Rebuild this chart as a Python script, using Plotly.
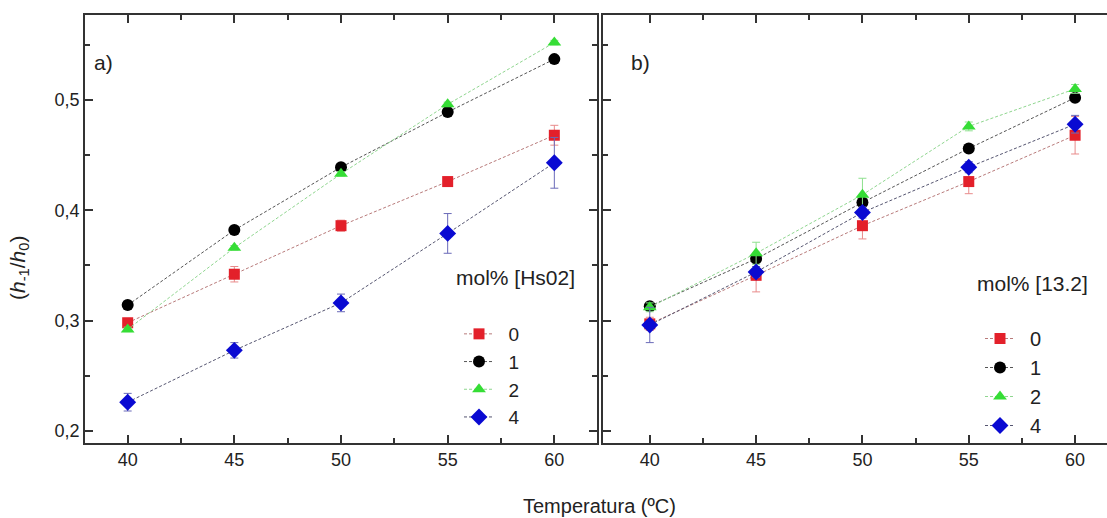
import plotly.graph_objects as go

# ---------------- data ----------------
temps = [40, 45, 50, 55, 60]
series_names = ["0", "1", "2", "4"]

# panel a) mol% [Hs02]
a_0 = [0.298, 0.342, 0.386, 0.426, 0.468]
a_0_err = [0.004, 0.007, 0.005, 0.004, 0.009]
a_1 = [0.314, 0.382, 0.439, 0.489, 0.537]
a_1_err = [0.002, 0.002, 0.002, 0.002, 0.002]
a_2 = [0.292, 0.366, 0.433, 0.496, 0.552]
a_2_err = [0.002, 0.002, 0.002, 0.002, 0.002]
a_4 = [0.226, 0.273, 0.316, 0.379, 0.443]
a_4_err = [0.008, 0.007, 0.008, 0.018, 0.023]

# panel b) mol% [13.2]
b_0 = [0.297, 0.341, 0.386, 0.426, 0.468]
b_0_err = [0.006, 0.015, 0.012, 0.011, 0.017]
b_1 = [0.313, 0.356, 0.407, 0.456, 0.502]
b_1_err = [0.003, 0.003, 0.003, 0.003, 0.003]
b_2 = [0.312, 0.361, 0.414, 0.476, 0.510]
b_2_err = [0.004, 0.010, 0.015, 0.004, 0.004]
b_4 = [0.296, 0.344, 0.398, 0.439, 0.478]
b_4_err = [0.016, 0.005, 0.005, 0.005, 0.008]

y_tick_vals = [0.2, 0.3, 0.4, 0.5]
y_tick_text = ["0,2", "0,3", "0,4", "0,5"]
x_tick_vals = [40, 45, 50, 55, 60]

# ---------------- styles ----------------
marker_colors = ["#e3202a", "#000000", "#35dd35", "#0a0ad2"]
line_colors = ["#b87a7a", "#555555", "#8fd68f", "#555570"]
err_colors = ["#e88a8a", "#888888", "#8ee08e", "#6a6ab8"]
symbols = ["square", "circle", "triangle-up", "diamond"]
sizes = [11, 12, 12, 13]

W, H = 1107, 518
FONT = "Liberation Sans, Arial, sans-serif"
AX = "#333333"
TXT = "#222222"
PAD = "\u2002"

def px_x(p):
    return p / W

def px_y(p):
    return 1 - p / H

fig = go.Figure()

panel_a = [a_0, a_1, a_2, a_4]
panel_a_err = [a_0_err, a_1_err, a_2_err, a_4_err]
panel_b = [b_0, b_1, b_2, b_4]
panel_b_err = [b_0_err, b_1_err, b_2_err, b_4_err]

for i, name in enumerate(series_names):
    fig.add_trace(go.Scatter(
        x=temps, y=panel_a[i], name=PAD + name, mode="lines+markers",
        xaxis="x", yaxis="y", legend="legend",
        line=dict(color=line_colors[i], width=1, dash="3px,2px"),
        marker=dict(symbol=symbols[i], size=sizes[i], color=marker_colors[i],
                    line=dict(width=0)),
        error_y=dict(type="data", array=panel_a_err[i], visible=True,
                     color=err_colors[i], thickness=1, width=4),
    ))

for i, name in enumerate(series_names):
    fig.add_trace(go.Scatter(
        x=temps, y=panel_b[i], name=PAD + name, mode="lines+markers",
        xaxis="x2", yaxis="y2", legend="legend2",
        line=dict(color=line_colors[i], width=1, dash="3px,2px"),
        marker=dict(symbol=symbols[i], size=sizes[i], color=marker_colors[i],
                    line=dict(width=0)),
        error_y=dict(type="data", array=panel_b_err[i], visible=True,
                     color=err_colors[i], thickness=1, width=4),
    ))

tickfont = dict(family=FONT, size=18, color=TXT)

common_x = dict(
    tickmode="array", tickvals=x_tick_vals, ticks="inside", ticklen=8,
    tickwidth=1.5, tickcolor=AX, showline=True, linewidth=1.5, linecolor=AX,
    mirror="allticks", showgrid=False, zeroline=False, tickfont=tickfont,
    minor=dict(dtick=2.5, tick0=40, ticks="inside", ticklen=5, tickwidth=1.5,
               tickcolor=AX, showgrid=False),
)
common_y = dict(
    tickmode="array", tickvals=y_tick_vals, ticktext=y_tick_text,
    ticks="inside", ticklen=8, tickwidth=1.5, tickcolor=AX, showline=True,
    linewidth=1.5, linecolor=AX, showgrid=False, zeroline=False,
    tickfont=tickfont, range=[0.189, 0.577],
    minor=dict(dtick=0.05, tick0=0.2, ticks="inside", ticklen=5, tickwidth=1.5,
               tickcolor=AX, showgrid=False),
)

top = px_y(15)
bottom = px_y(443)

fig.update_layout(
    width=W, height=H,
    margin=dict(l=0, r=0, t=0, b=0),
    paper_bgcolor="white", plot_bgcolor="white",
    separators=", ",
    font=dict(family=FONT, color=TXT),
    xaxis=dict(domain=[px_x(85), px_x(597)], range=[38, 62], anchor="y",
               automargin=False, **common_x),
    yaxis=dict(domain=[bottom, top], anchor="x", mirror="allticks",
               automargin=False, **common_y),
    xaxis2=dict(domain=[px_x(603), 1.0], range=[37.8, 61.5], anchor="y2",
                automargin=False, **common_x),
    yaxis2=dict(domain=[bottom, top], anchor="x2", mirror=False,
                showticklabels=False, automargin=False, **common_y),
    legend=dict(x=px_x(459), y=px_y(315), xanchor="left", yanchor="top",
                bgcolor="rgba(0,0,0,0)", borderwidth=0,
                font=dict(family=FONT, size=19, color=TXT), tracegroupgap=0),
    legend2=dict(x=px_x(980), y=px_y(319), xanchor="left", yanchor="top",
                 bgcolor="rgba(0,0,0,0)", borderwidth=0,
                 font=dict(family=FONT, size=20, color=TXT), tracegroupgap=0),
    showlegend=True,
)

ann_font = dict(family=FONT, size=21, color=TXT)
fig.add_annotation(text="a)", x=px_x(92), y=px_y(63), xref="paper", yref="paper",
                   xanchor="left", yanchor="middle", showarrow=False, font=ann_font)
fig.add_annotation(text="b)", x=px_x(629), y=px_y(63), xref="paper", yref="paper",
                   xanchor="left", yanchor="middle", showarrow=False, font=ann_font)
fig.add_annotation(text="mol% [Hs02]", x=px_x(454), y=px_y(277), xref="paper",
                   yref="paper", xanchor="left", yanchor="middle", showarrow=False,
                   font=ann_font)
fig.add_annotation(text="mol% [13.2]", x=px_x(975), y=px_y(283), xref="paper",
                   yref="paper", xanchor="left", yanchor="middle", showarrow=False,
                   font=ann_font)
fig.add_annotation(text="Temperatura (ºC)", x=px_x(599), y=px_y(506), xref="paper",
                   yref="paper", xanchor="center", yanchor="middle", showarrow=False,
                   font=dict(family=FONT, size=20, color=TXT))
fig.add_annotation(text="(<i>h</i><sub>-1</sub>/<i>h</i><sub>0</sub>)",
                   x=px_x(19), y=px_y(268), xref="paper", yref="paper",
                   xanchor="center", yanchor="middle", textangle=-90,
                   showarrow=False, font=ann_font)

fig.write_html("out.html")
